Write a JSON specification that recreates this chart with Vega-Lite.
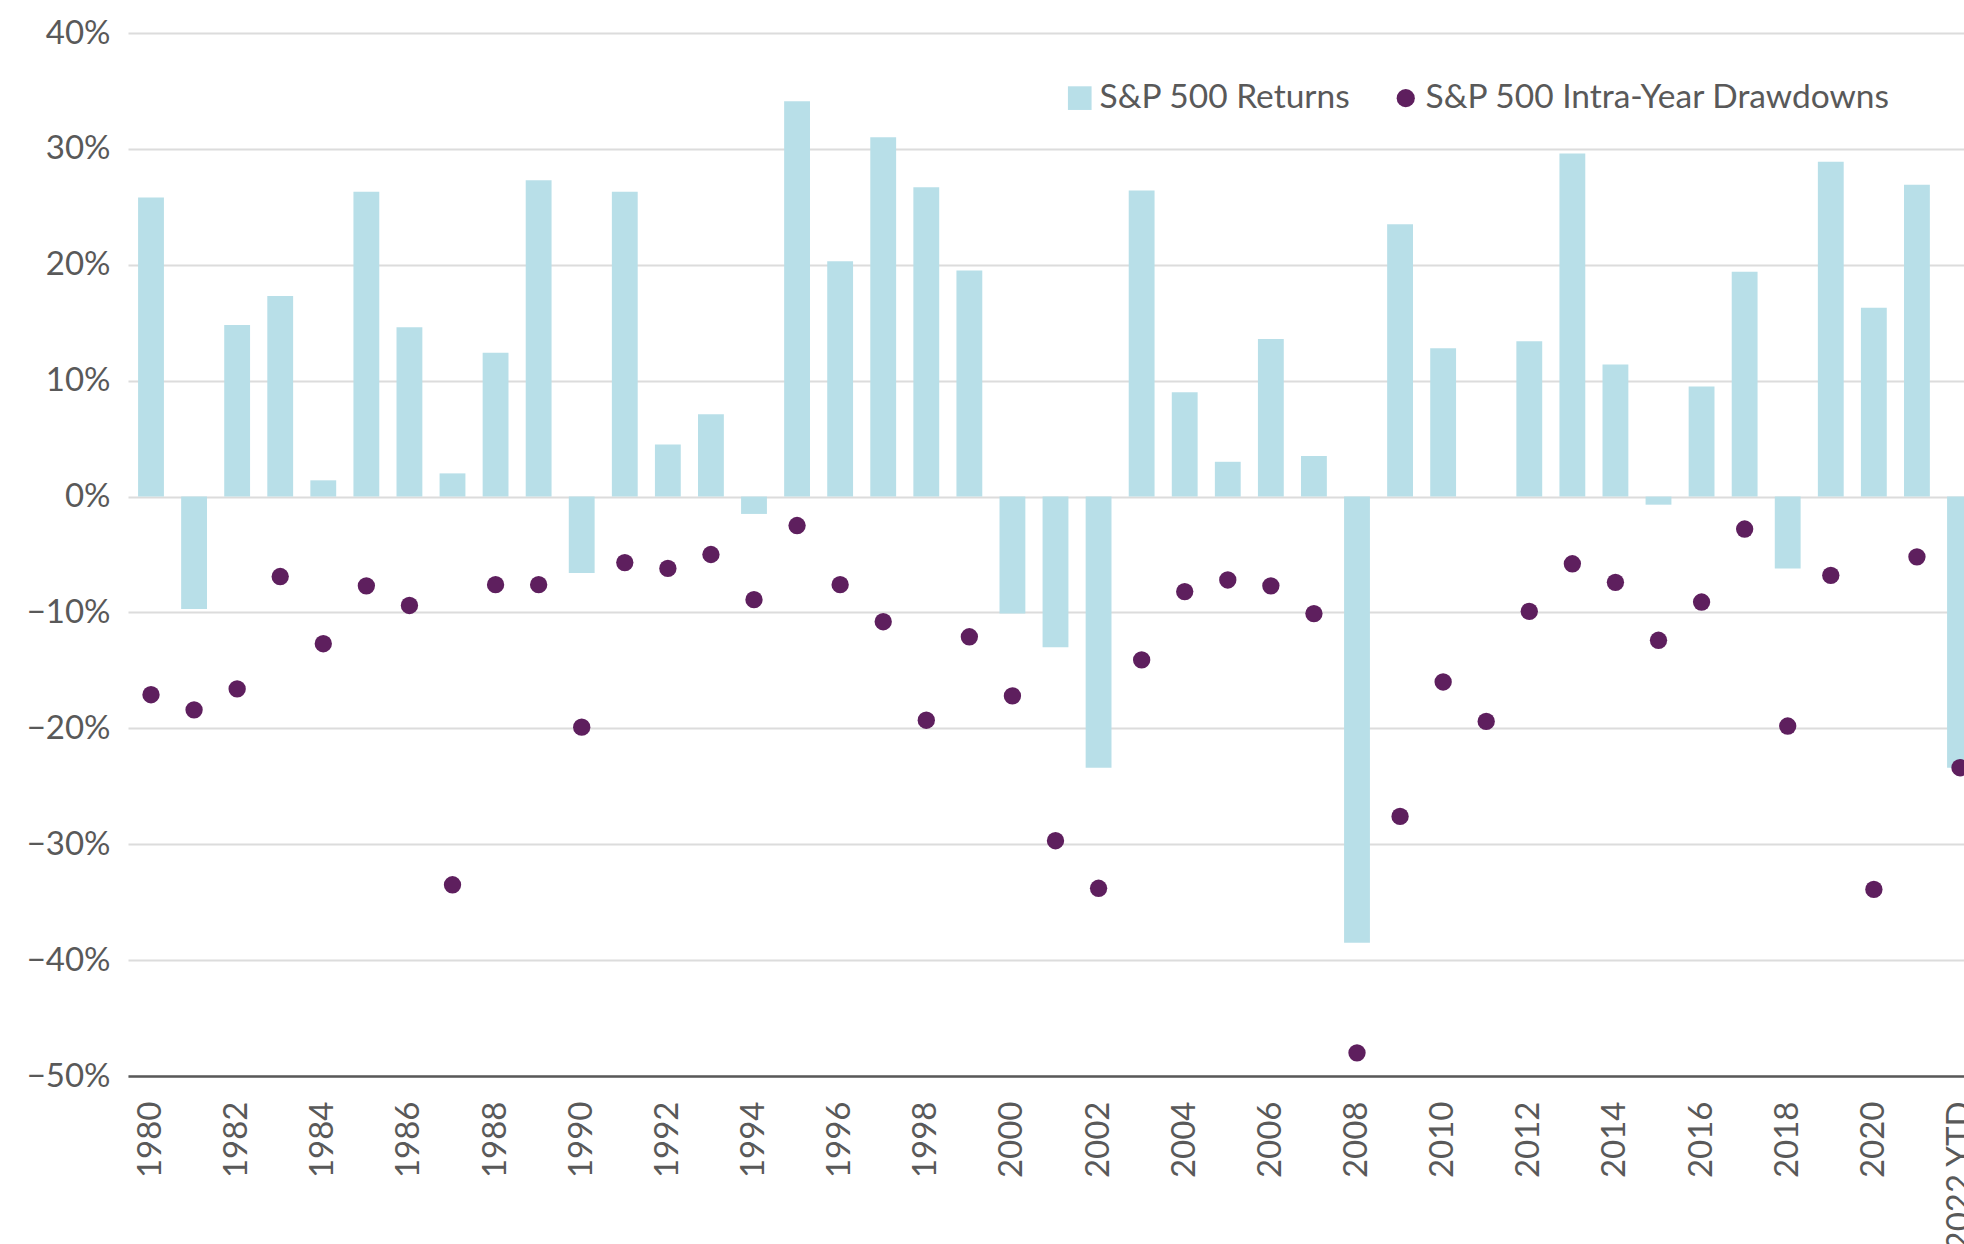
{
  "$schema": "https://vega.github.io/schema/vega-lite/v6.json",
  "autosize": {"type": "none"},
  "width": 1835,
  "height": 1043,
  "padding": {"left": 128, "top": 33, "right": 1, "bottom": 168},
  "background": "white",
  "config": {
    "view": {"stroke": null},
    "font": "Lato",
    "axis": {"labelFont": "Lato", "labelColor": "#595959"},
    "legend": {"labelFont": "Lato", "labelColor": "#595959", "labelLimit": 800}
  },
  "data": {
    "values": [
      {"year": "1980", "S&P 500 Returns": 25.8, "S&P 500 Intra-Year Drawdowns": -17.1},
      {"year": "1981", "S&P 500 Returns": -9.7, "S&P 500 Intra-Year Drawdowns": -18.4},
      {"year": "1982", "S&P 500 Returns": 14.8, "S&P 500 Intra-Year Drawdowns": -16.6},
      {"year": "1983", "S&P 500 Returns": 17.3, "S&P 500 Intra-Year Drawdowns": -6.9},
      {"year": "1984", "S&P 500 Returns": 1.4, "S&P 500 Intra-Year Drawdowns": -12.7},
      {"year": "1985", "S&P 500 Returns": 26.3, "S&P 500 Intra-Year Drawdowns": -7.7},
      {"year": "1986", "S&P 500 Returns": 14.6, "S&P 500 Intra-Year Drawdowns": -9.4},
      {"year": "1987", "S&P 500 Returns": 2.0, "S&P 500 Intra-Year Drawdowns": -33.5},
      {"year": "1988", "S&P 500 Returns": 12.4, "S&P 500 Intra-Year Drawdowns": -7.6},
      {"year": "1989", "S&P 500 Returns": 27.3, "S&P 500 Intra-Year Drawdowns": -7.6},
      {"year": "1990", "S&P 500 Returns": -6.6, "S&P 500 Intra-Year Drawdowns": -19.9},
      {"year": "1991", "S&P 500 Returns": 26.3, "S&P 500 Intra-Year Drawdowns": -5.7},
      {"year": "1992", "S&P 500 Returns": 4.5, "S&P 500 Intra-Year Drawdowns": -6.2},
      {"year": "1993", "S&P 500 Returns": 7.1, "S&P 500 Intra-Year Drawdowns": -5.0},
      {"year": "1994", "S&P 500 Returns": -1.5, "S&P 500 Intra-Year Drawdowns": -8.9},
      {"year": "1995", "S&P 500 Returns": 34.1, "S&P 500 Intra-Year Drawdowns": -2.5},
      {"year": "1996", "S&P 500 Returns": 20.3, "S&P 500 Intra-Year Drawdowns": -7.6},
      {"year": "1997", "S&P 500 Returns": 31.0, "S&P 500 Intra-Year Drawdowns": -10.8},
      {"year": "1998", "S&P 500 Returns": 26.7, "S&P 500 Intra-Year Drawdowns": -19.3},
      {"year": "1999", "S&P 500 Returns": 19.5, "S&P 500 Intra-Year Drawdowns": -12.1},
      {"year": "2000", "S&P 500 Returns": -10.1, "S&P 500 Intra-Year Drawdowns": -17.2},
      {"year": "2001", "S&P 500 Returns": -13.0, "S&P 500 Intra-Year Drawdowns": -29.7},
      {"year": "2002", "S&P 500 Returns": -23.4, "S&P 500 Intra-Year Drawdowns": -33.8},
      {"year": "2003", "S&P 500 Returns": 26.4, "S&P 500 Intra-Year Drawdowns": -14.1},
      {"year": "2004", "S&P 500 Returns": 9.0, "S&P 500 Intra-Year Drawdowns": -8.2},
      {"year": "2005", "S&P 500 Returns": 3.0, "S&P 500 Intra-Year Drawdowns": -7.2},
      {"year": "2006", "S&P 500 Returns": 13.6, "S&P 500 Intra-Year Drawdowns": -7.7},
      {"year": "2007", "S&P 500 Returns": 3.5, "S&P 500 Intra-Year Drawdowns": -10.1},
      {"year": "2008", "S&P 500 Returns": -38.5, "S&P 500 Intra-Year Drawdowns": -48.0},
      {"year": "2009", "S&P 500 Returns": 23.5, "S&P 500 Intra-Year Drawdowns": -27.6},
      {"year": "2010", "S&P 500 Returns": 12.8, "S&P 500 Intra-Year Drawdowns": -16.0},
      {"year": "2011", "S&P 500 Returns": 0.0, "S&P 500 Intra-Year Drawdowns": -19.4},
      {"year": "2012", "S&P 500 Returns": 13.4, "S&P 500 Intra-Year Drawdowns": -9.9},
      {"year": "2013", "S&P 500 Returns": 29.6, "S&P 500 Intra-Year Drawdowns": -5.8},
      {"year": "2014", "S&P 500 Returns": 11.4, "S&P 500 Intra-Year Drawdowns": -7.4},
      {"year": "2015", "S&P 500 Returns": -0.7, "S&P 500 Intra-Year Drawdowns": -12.4},
      {"year": "2016", "S&P 500 Returns": 9.5, "S&P 500 Intra-Year Drawdowns": -9.1},
      {"year": "2017", "S&P 500 Returns": 19.4, "S&P 500 Intra-Year Drawdowns": -2.8},
      {"year": "2018", "S&P 500 Returns": -6.2, "S&P 500 Intra-Year Drawdowns": -19.8},
      {"year": "2019", "S&P 500 Returns": 28.9, "S&P 500 Intra-Year Drawdowns": -6.8},
      {"year": "2020", "S&P 500 Returns": 16.3, "S&P 500 Intra-Year Drawdowns": -33.9},
      {"year": "2021", "S&P 500 Returns": 26.9, "S&P 500 Intra-Year Drawdowns": -5.2},
      {"year": "2022 YTD", "S&P 500 Returns": -23.4, "S&P 500 Intra-Year Drawdowns": -23.4}
    ]
  },
  "transform": [
    {"fold": ["S&P 500 Returns", "S&P 500 Intra-Year Drawdowns"], "as": ["series", "value"]}
  ],
  "encoding": {
    "x": {
      "field": "year",
      "type": "ordinal",
      "sort": null,
      "scale": {"range": [0, 1855], "paddingInner": 0.4, "paddingOuter": 0.234},
      "axis": {
        "title": null,
        "labelAngle": -90,
        "labelFontSize": 33,
        "labelPadding": 25,
        "ticks": false,
        "domainColor": "#595959",
        "domainWidth": 2.5,
        "grid": false,
        "labelOverlap": false,
        "values": ["1980","1982","1984","1986","1988","1990","1992","1994","1996","1998","2000","2002","2004","2006","2008","2010","2012","2014","2016","2018","2020","2022 YTD"]
      }
    },
    "y": {
      "field": "value",
      "type": "quantitative",
      "scale": {"domain": [-50, 40], "nice": false, "zero": false},
      "axis": {
        "title": null,
        "values": [-50, -40, -30, -20, -10, 0, 10, 20, 30, 40],
        "labelExpr": "replace(datum.label, '-', '\u2212') + '%'",
        "labelFontSize": 33,
        "labelPadding": 18,
        "ticks": false,
        "domain": false,
        "grid": true,
        "gridColor": "#DCDCDC",
        "gridWidth": 2
      }
    },
    "color": {
      "field": "series",
      "type": "nominal",
      "scale": {
        "domain": ["S&P 500 Returns", "S&P 500 Intra-Year Drawdowns"],
        "range": ["#B8DFE8", "#5E1F5E"]
      },
      "legend": {
        "title": null,
        "orient": "none",
        "legendX": 935,
        "legendY": 48,
        "direction": "horizontal",
        "labelFontSize": 33.5,
        "labelOffset": 3,
        "labelLimit": 800,
        "columnPadding": 38,
        "padding": 0,
        "symbolOpacity": 1,
        "encode": {
          "symbols": {"update": {"size": {"signal": "datum.value === 'S&P 500 Returns' ? 560 : 330"}}}
        }
      }
    }
  },
  "layer": [
    {
      "transform": [{"filter": "datum.series === 'S&P 500 Returns'"}],
      "mark": {"type": "bar"}
    },
    {
      "transform": [{"filter": "datum.series === 'S&P 500 Intra-Year Drawdowns'"}],
      "mark": {"type": "point", "filled": true, "opacity": 1, "size": 300},
      "encoding": {
        "shape": {
          "field": "series",
          "type": "nominal",
          "scale": {
            "domain": ["S&P 500 Returns", "S&P 500 Intra-Year Drawdowns"],
            "range": ["square", "circle"]
          },
          "legend": {
            "title": null,
            "orient": "none",
            "legendX": 935,
            "legendY": 48,
            "direction": "horizontal",
            "labelFontSize": 33.5,
            "labelOffset": 3,
            "labelLimit": 800,
            "columnPadding": 38,
            "padding": 0,
            "symbolOpacity": 1,
            "encode": {
              "symbols": {"update": {"size": {"signal": "datum.value === 'S&P 500 Returns' ? 560 : 330"}}}
            }
          }
        }
      }
    }
  ]
}
